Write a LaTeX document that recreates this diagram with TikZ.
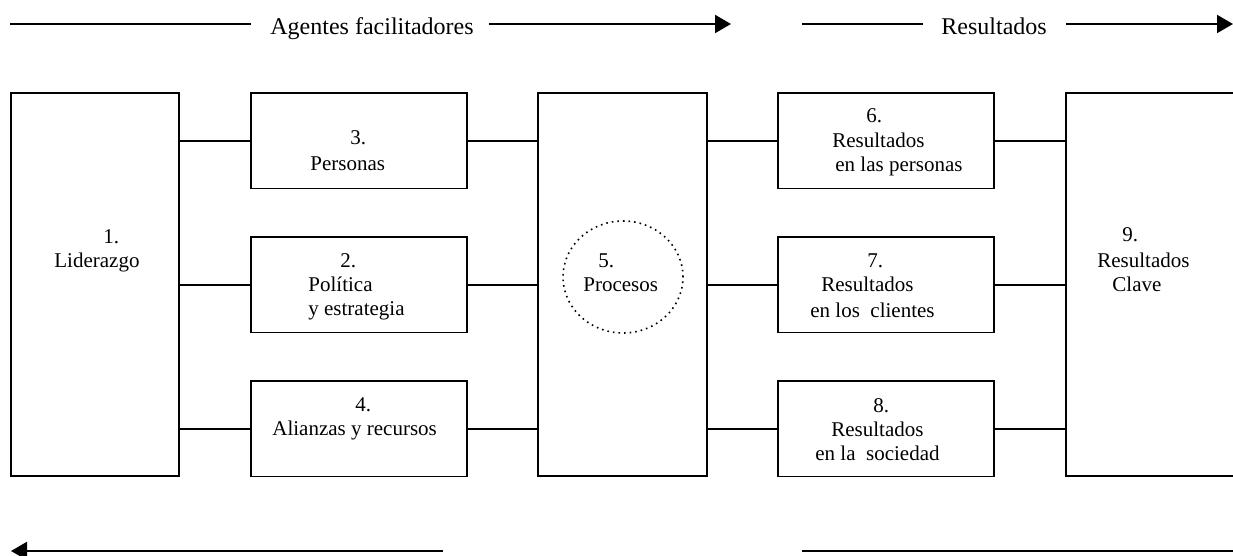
\documentclass[tikz,border=0pt]{standalone}
\usepackage{fontspec}
\setmainfont{Liberation Serif}
\usetikzlibrary{arrows.meta,shapes.geometric}
\begin{document}
\begin{tikzpicture}[x=0.5pt,y=-0.5pt,
  box/.style={draw, line width=0.9pt, anchor=north west, inner sep=0pt, outer sep=0pt},
  bigbox/.style={box, minimum width=84pt, minimum height=191.5pt},
  smallbox/.style={box, minimum width=108pt, minimum height=47.75pt},
  conn/.style={line width=1pt},
  arr/.style={line width=1pt, -{Triangle[length=8pt,width=9pt]}},
  txt/.style={anchor=base west, inner sep=0pt, font=\fontsize{10.5}{12}\selectfont},
  head/.style={anchor=base west, inner sep=0pt, font=\fontsize{12}{14}\selectfont}]
\useasboundingbox (0,0) rectangle (1233,556);
\clip (0,0) rectangle (1233,556);

% header arrows
\node[head] (hA) at (270,35) {Agentes facilitadores};
\node[head] (hR) at (941,35) {Resultados};
\coordinate (a1) at (10,24);
\coordinate (a2) at (251,24);
\coordinate (a3) at (489,24);
\coordinate (a4) at (731,24);
\coordinate (r1) at (802,24);
\coordinate (r2) at (923,24);
\coordinate (r3) at (1066,24);
\coordinate (r4) at (1233,24);
\draw[conn] (a1) -- (a2);
\draw[arr] (a3) -- (a4);
\draw[conn] (r1) -- (r2);
\draw[arr] (r3) -- (r4);

% boxes
\node[bigbox] (b1) at (11,93) {};
\node[smallbox] (b3) at (251,93) {};
\node[smallbox] (b2) at (251,237) {};
\node[smallbox] (b4) at (251,381) {};
\node[bigbox, minimum width=84.5pt] (b5) at (538,93) {};
\node[smallbox] (b6) at (778,93) {};
\node[smallbox] (b7) at (778,237) {};
\node[smallbox] (b8) at (778,381) {};
\node[bigbox, minimum width=95pt] (b9) at (1066,93) {};

% connectors
\draw[conn] (b3.west) -- (b3.west -| b1.east);
\draw[conn] (b2.west) -- (b2.west -| b1.east);
\draw[conn] (b4.west) -- (b4.west -| b1.east);
\draw[conn] (b3.east) -- (b3.east -| b5.west);
\draw[conn] (b2.east) -- (b2.east -| b5.west);
\draw[conn] (b4.east) -- (b4.east -| b5.west);
\draw[conn] (b6.west) -- (b6.west -| b5.east);
\draw[conn] (b7.west) -- (b7.west -| b5.east);
\draw[conn] (b8.west) -- (b8.west -| b5.east);
\draw[conn] (b6.east) -- (b6.east -| b9.west);
\draw[conn] (b7.east) -- (b7.east -| b9.west);
\draw[conn] (b8.east) -- (b8.east -| b9.west);

% process circle
\node[draw, dotted, line width=0.8pt, ellipse, minimum width=60pt, minimum height=56pt, inner sep=0pt] (circ) at (623,277) {};

% texts
\node[txt] (t1a) at (103,243) {1.};
\node[txt] (t1b) at (54,267) {Liderazgo};
\node[txt] (t3a) at (350,145) {3.};
\node[txt] (t3b) at (310,171) {Personas};
\node[txt] (t2a) at (340,268) {2.};
\node[txt] (t2b) at (308,292) {Política};
\node[txt] (t2c) at (308,315) {y estrategia};
\node[txt] (t4a) at (355,411) {4.};
\node[txt] (t4b) at (272,435) {Alianzas y recursos};
\node[txt] (t5a) at (598,267) {5.};
\node[txt] (t5b) at (583,292) {Procesos};
\node[txt] (t6a) at (866,123) {6.};
\node[txt] (t6b) at (832,148) {Resultados};
\node[txt] (t6c) at (835,172) {en las personas};
\node[txt] (t7a) at (867,267) {7.};
\node[txt] (t7b) at (821,292) {Resultados};
\node[txt] (t7c) at (810,317) {en los\ \ clientes};
\node[txt] (t8a) at (873,412) {8.};
\node[txt] (t8b) at (831,436) {Resultados};
\node[txt] (t8c) at (815,460) {en la\ \ sociedad};
\node[txt] (t9a) at (1122,242) {9.};
\node[txt] (t9b) at (1097,267) {Resultados};
\node[txt] (t9c) at (1112,292) {Clave};

% bottom arrows
\coordinate (l1) at (443,551);
\coordinate (l2) at (11,551);
\coordinate (m1) at (802,551);
\coordinate (m2) at (1245,551);
\draw[arr] (l1) -- (l2);
\draw[conn, line width=1.2pt] (m1) -- (m2);
\end{tikzpicture}
\end{document}
